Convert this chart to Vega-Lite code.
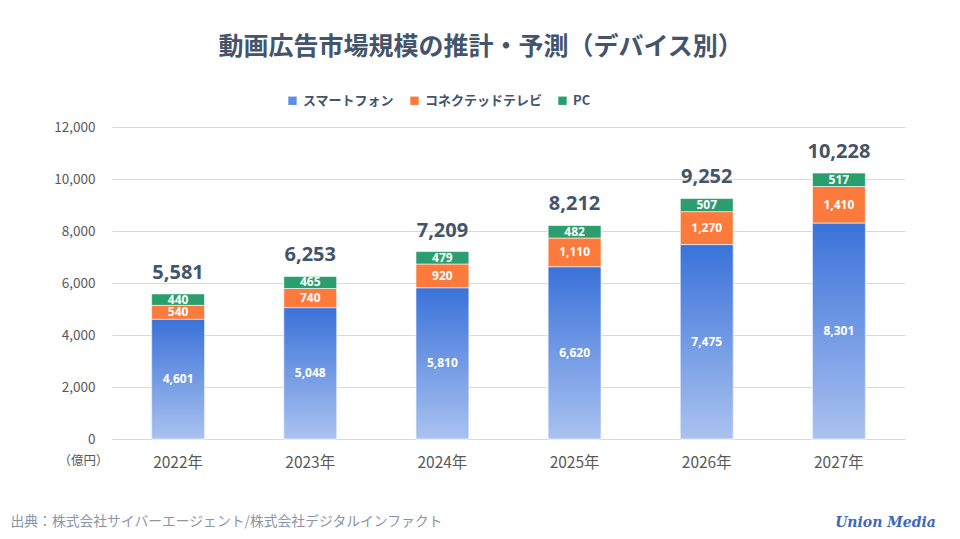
{
  "$schema": "https://vega.github.io/schema/vega-lite/v6.json",
  "autosize": {"type": "none"},
  "width": 793,
  "height": 312,
  "padding": {"left": 112, "top": 127, "right": 55, "bottom": 100},
  "background": "white",
  "title": {
    "text": "動画広告市場規模の推計・予測（デバイス別）",
    "font": "Noto Sans CJK JP",
    "fontSize": 25,
    "fontWeight": "bold",
    "color": "#44546A",
    "anchor": "middle",
    "frame": "group",
    "dx": -28,
    "offset": 34
  },
  "config": {
    "view": {"stroke": null},
    "font": "Noto Sans CJK JP",
    "axis": {"labelFont": "Noto Sans CJK JP", "titleFont": "Noto Sans CJK JP"}
  },
  "data": {
    "values": [
      {"year": "2022年", "device": "スマートフォン", "order": 1, "value": 4601},
      {"year": "2022年", "device": "コネクテッドテレビ", "order": 2, "value": 540},
      {"year": "2022年", "device": "PC", "order": 3, "value": 440},
      {"year": "2023年", "device": "スマートフォン", "order": 1, "value": 5048},
      {"year": "2023年", "device": "コネクテッドテレビ", "order": 2, "value": 740},
      {"year": "2023年", "device": "PC", "order": 3, "value": 465},
      {"year": "2024年", "device": "スマートフォン", "order": 1, "value": 5810},
      {"year": "2024年", "device": "コネクテッドテレビ", "order": 2, "value": 920},
      {"year": "2024年", "device": "PC", "order": 3, "value": 479},
      {"year": "2025年", "device": "スマートフォン", "order": 1, "value": 6620},
      {"year": "2025年", "device": "コネクテッドテレビ", "order": 2, "value": 1110},
      {"year": "2025年", "device": "PC", "order": 3, "value": 482},
      {"year": "2026年", "device": "スマートフォン", "order": 1, "value": 7475},
      {"year": "2026年", "device": "コネクテッドテレビ", "order": 2, "value": 1270},
      {"year": "2026年", "device": "PC", "order": 3, "value": 507},
      {"year": "2027年", "device": "スマートフォン", "order": 1, "value": 8301},
      {"year": "2027年", "device": "コネクテッドテレビ", "order": 2, "value": 1410},
      {"year": "2027年", "device": "PC", "order": 3, "value": 517}
    ]
  },
  "resolve": {"axis": {"y": "independent"}},
  "encoding": {
    "x": {
      "field": "year",
      "type": "nominal",
      "sort": null,
      "scale": {"paddingInner": 0.6, "paddingOuter": 0.3},
      "axis": {
        "labelAngle": 0,
        "labelFontSize": 15.5,
        "labelColor": "#595959",
        "labelPadding": 16,
        "ticks": false,
        "domainColor": "#D9D9D9",
        "title": "出典：株式会社サイバーエージェント/株式会社デジタルインファクト",
        "titleFontSize": 13.8,
        "titleFontWeight": "normal",
        "titleColor": "#8A95A5",
        "titleAlign": "left",
        "titleBaseline": "middle",
        "titleAnchor": null,
        "titleX": -102,
        "titleY": 82
      }
    }
  },
  "layer": [
    {
      "mark": {"type": "bar", "stroke": "white", "strokeWidth": 0.6},
      "encoding": {
        "y": {
          "field": "value",
          "type": "quantitative",
          "stack": "zero",
          "scale": {"domain": [0, 12000]},
          "axis": {
            "values": [0, 2000, 4000, 6000, 8000, 10000, 12000],
            "format": ",.0f",
            "labelFontSize": 13.5,
            "labelColor": "#595959",
            "labelPadding": 17,
            "ticks": false,
            "domain": false,
            "gridColor": "#D9D9D9",
            "title": "（億円）",
            "titleFontSize": 12.5,
            "titleFontWeight": "normal",
            "titleColor": "#595959",
            "titleAngle": 0,
            "titleAlign": "center",
            "titleBaseline": "middle",
            "titleAnchor": null,
            "titleX": -29,
            "titleY": 333
          }
        },
        "order": {"field": "order", "type": "quantitative"},
        "color": {
          "field": "device",
          "type": "nominal",
          "scale": {
            "domain": ["スマートフォン", "コネクテッドテレビ", "PC"],
            "range": ["#5F8FE3", "#FB7A3C", "#2A9E6E"]
          },
          "legend": {
            "title": null,
            "orient": "none",
            "direction": "horizontal",
            "legendX": 174,
            "legendY": -33,
            "symbolType": "square",
            "symbolSize": 70,
            "symbolStrokeWidth": 0,
            "labelFontSize": 13,
            "labelFont": "Noto Sans CJK JP",
            "labelFontWeight": "bold",
            "labelColor": "#44546A",
            "columnPadding": 13,
            "labelOffset": 4
          }
        }
      }
    },
    {
      "transform": [{"filter": "datum.device === 'スマートフォン'"}],
      "mark": {
        "type": "bar",
        "stroke": "white",
        "strokeWidth": 0.6,
        "color": {
          "gradient": "linear",
          "x1": 0, "y1": 0, "x2": 0, "y2": 1,
          "stops": [
            {"offset": 0, "color": "#3A72D9"},
            {"offset": 1, "color": "#AAC2F0"}
          ]
        }
      },
      "encoding": {
        "y": {"field": "value", "type": "quantitative", "stack": null, "axis": null}
      }
    },
    {
      "transform": [
        {"stack": "value", "groupby": ["year"], "sort": [{"field": "order"}], "as": ["v0", "v1"]},
        {"calculate": "(datum.v0 + datum.v1) / 2", "as": "mid"}
      ],
      "mark": {"type": "text", "color": "white", "fontWeight": "bold", "fontSize": 12, "font": "Open Sans", "baseline": "middle"},
      "encoding": {
        "y": {"field": "mid", "type": "quantitative", "axis": null},
        "text": {"field": "value", "type": "quantitative", "format": ","}
      }
    },
    {
      "mark": {"type": "text", "color": "#44546A", "fontWeight": "bold", "fontSize": 20, "font": "Open Sans", "baseline": "bottom", "dy": -11},
      "encoding": {
        "y": {"aggregate": "sum", "field": "value", "type": "quantitative", "axis": null},
        "text": {"aggregate": "sum", "field": "value", "type": "quantitative", "format": ","}
      }
    },
    {
      "transform": [{"filter": "datum.device === 'PC' && datum.year === '2027年'"}],
      "mark": {"type": "point", "opacity": 0},
      "encoding": {
        "y": {
          "field": "value",
          "type": "quantitative",
          "axis": {
            "orient": "right",
            "labels": false,
            "ticks": false,
            "domain": false,
            "grid": false,
            "title": "Union Media",
            "titleFont": "DejaVu Serif",
            "titleFontStyle": "italic",
            "titleFontWeight": "bold",
            "titleFontSize": 14,
            "titleColor": "#3F67BE",
            "titleAngle": 0,
            "titleAlign": "center",
            "titleBaseline": "middle",
            "titleAnchor": null,
            "titleX": -20,
            "titleY": 395
          }
        }
      }
    }
  ]
}
